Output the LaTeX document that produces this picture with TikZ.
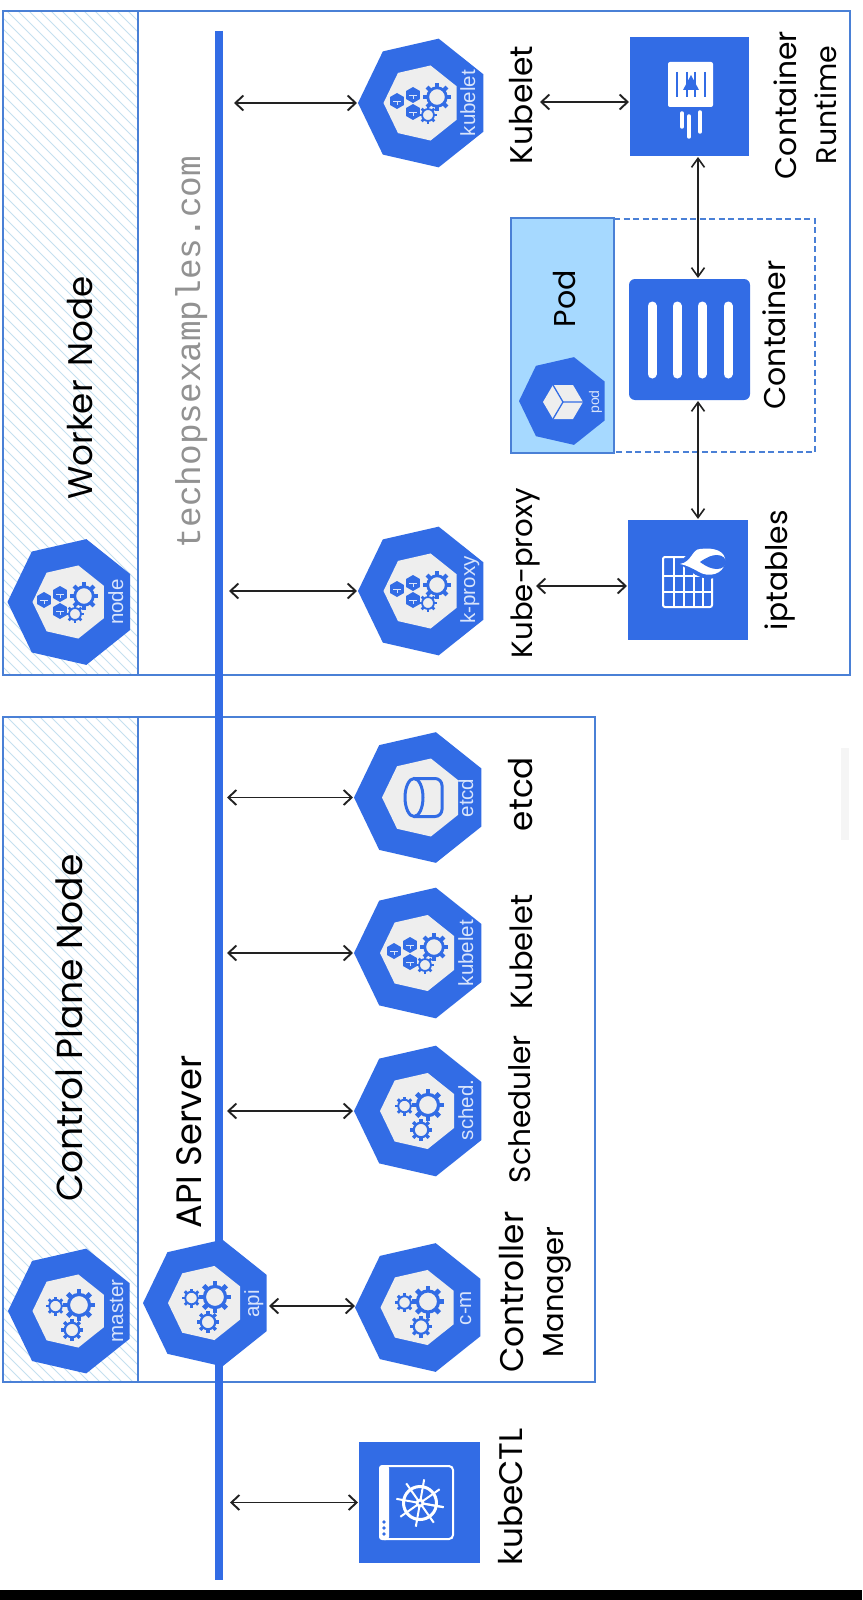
\documentclass[tikz,border=0pt]{standalone}
\usepackage{fontspec}
\usepackage{graphicx}
\usetikzlibrary{arrows.meta,shapes.geometric,calc}
\newfontfamily\handfont{Poppins}
\newfontfamily\labelfont{Liberation Sans}
\newfontfamily\webfont{Liberation Mono}
\definecolor{kblue}{HTML}{326CE5}
\definecolor{frameblue}{HTML}{4A80D6}
\definecolor{hatchblue}{HTML}{C4E0EF}
\definecolor{podblue}{HTML}{A6D9FF}
\definecolor{lightin}{HTML}{EEEEEE}
\definecolor{lbl}{HTML}{D8E4FB}
\definecolor{webgray}{HTML}{929292}
\definecolor{arrowc}{HTML}{222222}
\tikzset{
  hand/.style={font=\handfont\fontsize{30}{36}\selectfont,inner sep=0pt,outer sep=0pt,text=black},
  handtwo/.style={font=\handfont\fontsize{30}{40}\selectfont,inner sep=0pt,outer sep=0pt,text=black,align=center},
  hept/.style={regular polygon,regular polygon sides=7,shape border rotate=90,fill=kblue,draw=none,inner sep=0pt,outer sep=0pt},
  heptin/.style={regular polygon,regular polygon sides=7,shape border rotate=90,fill=lightin,draw=none,inner sep=0pt,outer sep=0pt},
  hlabel/.style={font=\labelfont\fontsize{20.5}{24}\selectfont,text=lbl,inner sep=0pt,outer sep=0pt,rotate=90,anchor=base},
  squarebox/.style={rectangle,fill=kblue,draw=none,inner sep=0pt,outer sep=0pt},
  frameline/.style={draw=frameblue,line width=1.8pt},
  arr/.style={{Straight Barb[length=8pt,width=15pt,line width=1.9pt]}-{Straight Barb[length=8pt,width=15pt,line width=1.9pt]},line width=1.9pt,draw=arrowc,shorten <=1pt,shorten >=1pt},
  arrthin/.style={{Straight Barb[length=9pt,width=13pt,line width=1.6pt]}-{Straight Barb[length=9pt,width=13pt,line width=1.6pt]},line width=1.5pt,draw=arrowc,shorten <=1pt,shorten >=1pt},
}
\newcommand{\fitw}[2]{\resizebox{#1pt}{!}{#2}}
\newcommand{\hatchpanel}[4]{%
  \begin{scope}
    \clip (#1,#2) rectangle (#3,#4);
    \pgfmathsetmacro{\hh}{#4-#2}
    \foreach \s in {-1500,-1489,...,200}{
      \draw[hatchblue,line width=1pt] (\s,#2) -- ++(\hh,\hh);
    }
  \end{scope}}
\newcommand{\gearicon}[3]{%
  \draw[kblue,line width={#3*0.2pt}] (#1,#2) circle ({#3*0.66});
  \foreach \a in {0,45,...,315}{
    \draw[kblue,line width={#3*0.3pt}] ({#1+#3*0.7*cos(\a)},{#2+#3*0.7*sin(\a)}) -- ({#1+#3*1.0*cos(\a)},{#2+#3*1.0*sin(\a)});
  }}
\newcommand{\threegears}[2]{%
  \gearicon{#1+7}{#2-6}{16}
  \gearicon{#1-16.5}{#2-5}{9.5}
  \gearicon{#1}{#2+19}{11}}
\newcommand{\smallcube}[2]{%
  \fill[kblue] ({#1+8*cos(30)},{#2+8*sin(30)}) -- ({#1+8*cos(90)},{#2+8*sin(90)}) -- ({#1+8*cos(150)},{#2+8*sin(150)}) -- ({#1+8*cos(210)},{#2+8*sin(210)}) -- ({#1+8*cos(270)},{#2+8*sin(270)}) -- ({#1+8*cos(330)},{#2+8*sin(330)}) -- cycle;
  \draw[lbl,line width=.8pt] (#1-4,#2) -- (#1+4,#2) (#1,#2) -- (#1,#2+4);}
\newcommand{\cubegears}[2]{%
  \smallcube{#1-27}{#2-2}
  \smallcube{#1-11}{#2-8}
  \smallcube{#1-11}{#2+9}
  \gearicon{#1+13}{#2-6}{14}
  \gearicon{#1+4}{#2+12}{9}}
\begin{document}
\begin{tikzpicture}[x=1pt,y=-1pt]
\useasboundingbox (0,0) rectangle (862,1600);
\fill[white] (0,0) rectangle (862,1600);
\fill[black] (0,1590) rectangle (862,1600);
\fill[black!4] (841,748) rectangle (849,840);

% panels
\hatchpanel{3}{11}{138}{675}
\hatchpanel{3}{717}{138}{1382}
\draw[frameline] (3,11) rectangle (850,675);
\draw[frameline] (138,11) -- (138,675);
\draw[frameline] (3,717) rectangle (595,1382);
\draw[frameline] (138,717) -- (138,1382);

% bus
\coordinate (busT) at (219,31);
\coordinate (busB) at (219,1580);
\draw[kblue,line width=8pt] (busT) -- (busB);

% pod frame
\draw[frameblue,line width=1.8pt,dash pattern=on 6pt off 3.5pt] (614,219) -- (815,219) -- (815,452) -- (614,452);
\node[rectangle,fill=podblue,draw=frameblue,line width=1.8pt,minimum width=103pt,minimum height=235pt,inner sep=0pt,outer sep=0pt] (podbox) at (562.5,335.5) {};

% heptagons
\node[hept,minimum size=132pt] (kubeletW) at (424,103) {};
\node[heptin,minimum size=77pt] (kubeletWi) at (422,103) {};
\cubegears{424}{103}
\node[hlabel] (kubeletWt) at (475,103) {kubelet};

\node[hept,minimum size=132pt] (kproxy) at (424,591) {};
\node[heptin,minimum size=77pt] (kproxyi) at (422,591) {};
\cubegears{424}{591}
\node[hlabel] (kproxyt) at (475,590) {k-proxy};

\node[hept,minimum size=129pt] (nodeH) at (72,602) {};
\node[heptin,minimum size=75pt] (nodeHi) at (70,602) {};
\cubegears{71}{602}
\node[hlabel] (nodeHt) at (123,602) {node};

\node[hept,minimum size=134pt] (etcd) at (421,797.5) {};
\node[heptin,minimum size=80pt] (etcdi) at (422,797.5) {};
\draw[kblue,line width=3pt,rounded corners=7pt] (414,778.5) -- (442,778.5) -- (442,816.5) -- (414,816.5);
\draw[kblue,line width=3pt] (414,797.5) ellipse (9 and 19);
\node[hlabel] (etcdt) at (473,798) {etcd};

\node[hept,minimum size=134pt] (kubeletC) at (421,953) {};
\node[heptin,minimum size=78pt] (kubeletCi) at (419,953) {};
\cubegears{421}{953}
\node[hlabel] (kubeletCt) at (473,953) {kubelet};

\node[hept,minimum size=134pt] (sched) at (421,1111) {};
\node[heptin,minimum size=78pt] (schedi) at (419,1111) {};
\threegears{421}{1111}
\node[hlabel] (schedt) at (473,1110) {sched.};

\node[hept,minimum size=132pt] (cm) at (421,1307.5) {};
\node[heptin,minimum size=77pt] (cmi) at (419,1307.5) {};
\threegears{421}{1307.5}
\node[hlabel] (cmt) at (471,1308) {c-m};

\node[hept,minimum size=130pt] (api) at (208,1303) {};
\node[heptin,minimum size=76pt] (apii) at (206,1303) {};
\threegears{208}{1303}
\node[hlabel] (apit) at (259,1304) {api};

\node[hept,minimum size=128pt] (master) at (72,1311) {};
\node[heptin,minimum size=75pt] (masteri) at (70,1311) {};
\threegears{72}{1311}
\node[hlabel] (mastert) at (123,1311) {master};

\node[hept,minimum size=90pt] (podH) at (564,401) {};
\fill[lightin] (583,402) -- (573,385) -- (553,385) -- (543,402) -- (553,419) -- (573,419) -- cycle;
\draw[kblue,line width=1.3pt] (563,402) -- (583,402) (563,402) -- (553,385) (563,402) -- (553,419);
\node[hlabel,font=\labelfont\fontsize{14}{16}\selectfont] (podt) at (599,402) {pod};

% square boxes
\node[squarebox,minimum width=119pt,minimum height=119pt] (runtime) at (689.5,96.5) {};
\fill[white,rounded corners=2pt] (668,62) rectangle (713,107);
\draw[kblue,line width=1.6pt] (677,72) -- (677,97) (705,72) -- (705,97) (687,72) -- (687,97) (695,72) -- (695,97);
\fill[kblue] (691,75) -- (699,90) -- (683,90) -- cycle;
\draw[white,line width=3.5pt,line cap=round] (682,113) -- (682,127) (689,116) -- (689,137) (700,112) -- (700,132);

\node[squarebox,minimum width=120pt,minimum height=120pt] (iptables) at (688,580) {};
\draw[white,line width=2pt,rounded corners=2pt] (663,557) rectangle (712,607);
\draw[white,line width=2pt] (673.5,557) -- (673.5,607) (684,557) -- (684,607) (693.5,557) -- (693.5,607) (703,557) -- (703,607) (663,576) -- (712,576) (663,592) -- (712,592);
\fill[kblue] (676,562) .. controls (690,558) and (690,545) .. (700,545) .. controls (715,543) and (732,548) .. (729,563) .. controls (727,578) and (710,582) .. (698,576) .. controls (690,572) and (684,566) .. (676,562) -- cycle;
\fill[white] (680,564) .. controls (692,562) and (692,549) .. (700,549) .. controls (714,547) and (727,551) .. (725,563) .. controls (723,574) and (709,578) .. (699,572) .. controls (692,568) and (686,565) .. (680,564) -- cycle;
\fill[kblue] (700,562) .. controls (707,557) and (712,555) .. (717,555) .. controls (723,555) and (726,559) .. (726,562) .. controls (726,566) and (722,569) .. (717,569) .. controls (712,569) and (707,567) .. (700,562) -- cycle;

\node[squarebox,rounded corners=6pt,minimum width=121pt,minimum height=121pt] (container) at (689.5,339.5) {};
\draw[white,line width=9pt,line cap=round] (652,306) -- (652,374) (677,306) -- (677,374) (702,306) -- (702,374) (728,306) -- (728,374);

\node[squarebox,minimum width=121pt,minimum height=121pt] (kubectl) at (419.5,1502.5) {};
\draw[white,line width=2pt,rounded corners=4pt] (380,1466) rectangle (453,1539);
\fill[white,rounded corners=3pt] (379,1465) rectangle (389,1540);
\fill[kblue] (384,1522) circle (1.9) (384,1528) circle (1.9) (384,1534) circle (1.9);
\draw[white,line width=3pt] (420,1503) circle (16.5);
\foreach \a in {10,55,...,370}{
  \draw[white,line width=2pt] (420,1503) -- ({420+24*cos(\a)},{1503+24*sin(\a)});
}
\fill[white] (420,1503) circle (4.5);
\fill[kblue] (420,1503) circle (1.5);

% texts
\node[hand,anchor=base,rotate=90] (lWorker) at (92,388) {\fitw{223}{Worker\hspace{.4em}Node}};
\node[hand,anchor=base,rotate=90] (lControl) at (82,1028) {\fitw{347}{Control Plane Node}};
\node[hand,anchor=base,rotate=90] (lApi) at (201,1142) {\fitw{173}{API Server}};
\node[hand,anchor=base,rotate=90] (lKubelet) at (532,105) {\fitw{118}{Kubelet}};
\node[hand,anchor=base,rotate=90] (lProxy) at (532,573) {\fitw{170}{Kube-proxy}};
\node[hand,anchor=base,rotate=90] (lPod) at (575,298.5) {\fitw{57}{Pod}};
\node[hand,anchor=base,rotate=90] (lContainer) at (785,335) {\fitw{149}{Container}};
\node[hand,anchor=base,rotate=90] (lIptables) at (787,570) {\fitw{120}{iptables}};
\node[handtwo,rotate=90] (lRuntime) at (805,105) {\fitw{148}{Container}\\\fitw{118}{Runtime}};
\node[hand,anchor=base,rotate=90] (lEtcd) at (532,794) {\fitw{74}{etcd}};
\node[hand,anchor=base,rotate=90] (lKubeletC) at (532,952) {\fitw{115}{Kubelet}};
\node[hand,anchor=base,rotate=90] (lSched) at (530,1109) {\fitw{148}{Scheduler}};
\node[handtwo,rotate=90] (lCtrl) at (535,1292) {\fitw{161}{Controller}\\\fitw{131}{Manager}};
\node[hand,anchor=base,rotate=90] (lCtl) at (522,1497) {\fitw{137}{kubeCTL}};
\node[font=\webfont\fontsize{34.4}{40}\selectfont,text=webgray,inner sep=0pt,anchor=base,rotate=90] (web) at (200,352) {techopsexamples.com};

% connector ends
\coordinate (b1) at (233,103);
\coordinate (b2) at (228,591);
\coordinate (b3) at (226,797.5);
\coordinate (b4) at (226,953);
\coordinate (b5) at (226,1111);
\coordinate (b6) at (229,1502.5);
\coordinate (a1) at (268,1306);
\coordinate (e1) at (356,1306);
\coordinate (k1) at (539,102);
\coordinate (k2) at (630,102);
\coordinate (p1) at (535,586);
\coordinate (p2) at (628,586);
\coordinate (x698) at (698,0);

% connectors
\draw[arr] (b1) -- (kubeletW.west);
\draw[arr] (b2) -- (kproxy.west);
\draw[arr] (b3) -- (etcd.west);
\draw[arr] (b4) -- (kubeletC.west);
\draw[arr] (b5) -- (sched.west);
\draw[arr] (a1) -- (e1);
\draw[arr] (b6) -- (kubectl.west);
\draw[arr] (k1) -- (k2);
\draw[arr] (p1) -- (p2);
\draw[arrthin] (x698 |- runtime.south) -- (x698 |- container.north);
\draw[arrthin] (x698 |- container.south) -- (x698 |- iptables.north);
\end{tikzpicture}
\end{document}
